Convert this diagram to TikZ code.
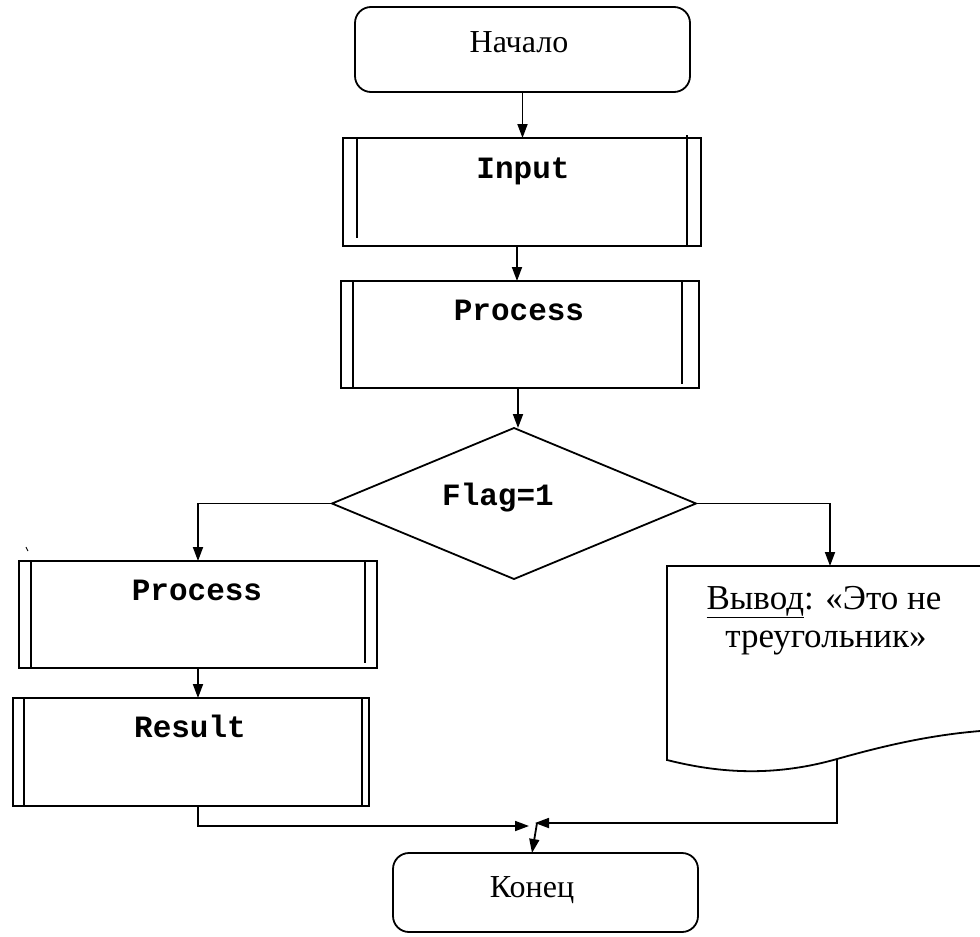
\documentclass[tikz,border=0pt]{standalone}
\usepackage{fontspec}
\setmainfont{Liberation Serif}
\setmonofont{Liberation Mono}
\usetikzlibrary{arrows.meta,shapes.geometric}
\begin{document}
\begin{tikzpicture}[x=1pt,y=-1pt,line width=1.8pt,
  box/.style={draw,inner sep=0pt,outer sep=0pt},
  term/.style={box,rounded corners=16pt},
  arr/.style={line width=1.8pt,-{Triangle[length=14pt,width=10pt]}},
  ttl/.style={font=\fontsize{31}{36}\selectfont\ttfamily\bfseries,anchor=base,inner sep=0pt},
  rml/.style={font=\fontsize{32}{38}\selectfont,anchor=base,inner sep=0pt},
  rmd/.style={font=\fontsize{35}{40}\selectfont,anchor=base,inner sep=0pt}]
\clip (0,0) rectangle (980,937);
\fill[white] (0,0) rectangle (980,937);

% terminals
\node[term,minimum width=335pt,minimum height=85pt] (start) at (522.5,49.5) {};
\node[rml] (tstart) at (519,52) {Начало};
\node[term,minimum width=305pt,minimum height=79pt] (end) at (545.5,892.5) {};
\node[rml] (tend) at (532,897) {Конец};

% Input
\node[box,minimum width=358pt,minimum height=108pt] (inp) at (522,192) {};
\draw ([xshift=14pt]inp.north west) -- ([xshift=14pt,yshift=8pt]inp.south west);
\draw ([xshift=-14pt,yshift=3pt]inp.north east) -- ([xshift=-14pt]inp.south east);
\node[ttl] (tinp) at (523,178) {Input};

% Process 1
\node[box,minimum width=358pt,minimum height=107pt] (p1) at (520,334.5) {};
\draw ([xshift=12pt]p1.north west) -- ([xshift=12pt,yshift=1pt]p1.south west);
\draw ([xshift=-17pt]p1.north east) -- ([xshift=-17pt,yshift=4pt]p1.south east);
\node[ttl] (tp1) at (519,320) {Process};

% Decision
\node[box,diamond,minimum width=364pt,minimum height=151pt] (dia) at (514,503.5) {};
\node[ttl] (tdia) at (498,505) {Flag=1};

% Process 2
\node[box,minimum width=358pt,minimum height=107pt] (p2) at (198,614.5) {};
\draw ([xshift=12pt]p2.north west) -- ([xshift=12pt]p2.south west);
\draw ([xshift=-12pt]p2.north east) -- ([xshift=-12pt,yshift=5pt]p2.south east);
\node[ttl] (tp2) at (197,600) {Process};
\draw[line width=0.9pt] (26,547) -- (28,551);

% Result
\node[box,minimum width=356pt,minimum height=108pt] (res) at (191,752) {};
\draw ([xshift=11pt]res.north west) -- ([xshift=11pt]res.south west);
\draw ([xshift=-7pt]res.north east) -- ([xshift=-7pt]res.south east);
\node[ttl] (tres) at (190,737) {Result};

% Document
\draw (995,566) -- (667,566) -- (667,760)
  .. controls (715,772) and (770,778) .. (837,759)
  .. controls (890,744) and (940,733) .. (995,730);
\node[rmd] (tdoc1) at (824,609) {\underline{Вывод}: «Это не};
\node[rmd] (tdoc2) at (826,647) {треугольник»};

% coordinates
\coordinate (doctop) at (830,566);
\coordinate (docout) at (837,759);
\coordinate (resout) at (198,806);
\coordinate (m1) at (529,826);
\coordinate (m2) at (535,823);
\coordinate (m3) at (537,823);
\coordinate (endin) at (532,853);

% connectors
\draw[arr] (start.south) -- (start.south |- inp.north);
\draw[arr] ([xshift=-5pt]inp.south) -- ([xshift=-5pt]inp.south |- p1.north);
\draw[arr] ([xshift=-2pt]p1.south) -- ([xshift=-2pt]p1.south |- dia.north);
\draw[arr] (dia.west) -| (p2.north);
\draw[arr] (dia.east) -| (doctop);
\draw[arr] (p2.south) -- (p2.south |- res.north);
\draw[arr] (resout) |- (m1);
\draw[arr] (docout) |- (m2);
\draw[arr] (m3) -- (endin);
\end{tikzpicture}
\end{document}
